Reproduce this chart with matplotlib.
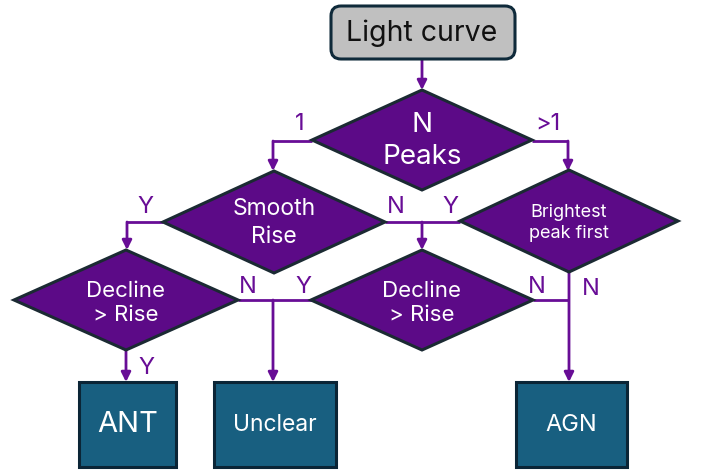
import matplotlib.pyplot as plt
from matplotlib.patches import Polygon, FancyBboxPatch, Rectangle

plt.rcParams['font.family'] = ['Inter', 'DejaVu Sans']

# node texts
start_label = "Light curve"
decision_labels = ["N\nPeaks", "Smooth\nRise", "Brightest\npeak first", "Decline\n> Rise", "Decline\n> Rise"]
outcome_labels = ["ANT", "Unclear", "AGN"]
branch_labels = ["1", ">1", "Y", "N", "Y", "N", "Y", "N", "N", "Y"]

# layout (pixel coords, y down)
diamonds = [(422, 140, 110, 50), (274, 222, 111, 51), (569, 221, 109, 51),
            (126, 300, 112, 50), (422, 300, 111, 50)]
dia_fs = [20, 16.5, 13, 16, 16]
dia_ty = [141, 223, 223, 303, 303]
boxes = [(79, 382, 97, 85), (214, 382, 122, 85), (516, 382, 111, 85)]
box_fs = [21, 16.5, 17]

purple = '#5c0a87'
line_c = '#680d96'
edge_c = '#1b2a33'
box_c = '#185f80'

fig = plt.figure(figsize=(7.03, 4.73), dpi=100)
ax = fig.add_axes([0, 0, 1, 1])
ax.set_xlim(0, 703)
ax.set_ylim(473, 0)
ax.axis('off')

# start box
ax.add_patch(FancyBboxPatch((331, 6), 184, 53, boxstyle='round,pad=0,rounding_size=10',
                            fc='#c0c0c0', ec='#0f2a3a', lw=2.2, zorder=3))
ax.text(422, 33, start_label, ha='center', va='center', fontsize=20.5, color='#111111', zorder=4)

for (cx, cy, hw, hh), lab, fs, ty in zip(diamonds, decision_labels, dia_fs, dia_ty):
    ax.add_patch(Polygon([(cx - hw, cy), (cx, cy - hh), (cx + hw, cy), (cx, cy + hh)],
                         closed=True, fc=purple, ec=edge_c, lw=2.2, zorder=3))
    ax.text(cx, ty, lab, ha='center', va='center', fontsize=fs, color='white',
            linespacing=1.3, zorder=4)

for (x, y, w, h), lab, fs in zip(boxes, outcome_labels, box_fs):
    ax.add_patch(Rectangle((x, y), w, h, fc=box_c, ec='#0b2536', lw=2.2, zorder=3))
    ax.text(x + w / 2, y + h / 2, lab, ha='center', va='center', fontsize=fs, color='white', zorder=4)


def seg(xs, ys):
    ax.plot(xs, ys, color=line_c, lw=2, solid_capstyle='butt', zorder=2)


def arrow(x, y0, y1):
    ax.annotate('', xy=(x, y1), xytext=(x, y0),
                arrowprops=dict(arrowstyle='-|>', color=line_c, lw=2,
                                mutation_scale=14, shrinkA=0, shrinkB=0), zorder=2)


arrow(422, 60, 90)
seg([312, 273], [141, 141]); arrow(273, 141, 171)
seg([532, 568], [141, 141]); arrow(568, 141, 171)
seg([163, 127], [222, 222]); arrow(127, 222, 250)
seg([385, 460], [222, 222]); arrow(422, 222, 250)
seg([238, 312], [300, 300]); arrow(273, 300, 382)
seg([533, 569], [300, 300]); arrow(569, 272, 382)
arrow(126, 350, 382)

label_pos = [(300, 124), (548, 124), (145, 207), (396, 207), (450, 207),
             (248, 287), (303, 287), (537, 287), (591, 289), (146, 368)]
for (x, y), lab in zip(label_pos, branch_labels):
    ax.text(x, y, lab, ha='center', va='center', fontsize=17, color=line_c)

fig.savefig('out.png', dpi=100)
